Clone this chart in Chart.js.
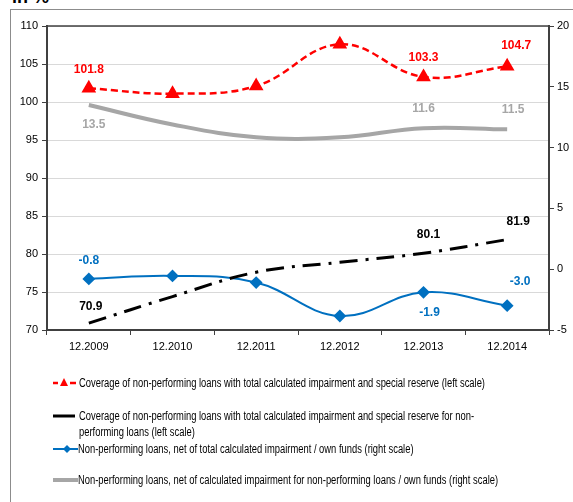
<!DOCTYPE html>
<html>
<head>
<meta charset="utf-8">
<script src="https://cdn.jsdelivr.net/npm/chart.js@4.4.1/dist/chart.umd.min.js"></script>
<style>
  html, body { margin: 0; padding: 0; background: #fff; }
  #wrap { position: relative; width: 573px; height: 502px; overflow: hidden; }
  #frame { position: absolute; left: 10px; top: 9px; width: 600px; height: 600px; border: 1px solid #8c8c8c; box-sizing: border-box; }
  #title { position: absolute; left: 12px; top: -13px; font: bold 18px 'Liberation Sans', Arial, sans-serif; color: #000; }
  #myChart { position: absolute; left: 0; top: 0; }
  .leg { position: absolute; left: 53px; font: 12px 'Liberation Sans', Arial, sans-serif; color: #000; }
  .leg svg { position: absolute; left: 0; }
  .leg span { position: absolute; left: 26px; white-space: nowrap; line-height: 16px; transform-origin: 0 0; }
</style>
</head>
<body>
<div id="wrap">
  <div id="frame"></div>
  <div id="title">in %</div>
  <canvas id="myChart" width="573" height="502"></canvas>

  <div class="leg" style="top:376px">
    <svg width="24" height="14"><line x1="0" y1="7" x2="5" y2="7" stroke="#ff0000" stroke-width="2.5"/><polygon points="11,2 15,10 7,10" fill="#ff0000"/><line x1="17" y1="7" x2="23" y2="7" stroke="#ff0000" stroke-width="2.5"/></svg>
    <span id="leg1" style="top:-1px">Coverage of non-performing loans with total calculated impairment and special reserve (left scale)</span>
  </div>
  <div class="leg" style="top:409px">
    <svg width="24" height="14"><line x1="0" y1="7" x2="22" y2="7" stroke="#000" stroke-width="3"/></svg>
    <span style="top:-1px">Coverage of non-performing loans with total calculated impairment and special reserve for non-<br>performing loans (left scale)</span>
  </div>
  <div class="leg" style="top:442px">
    <svg width="26" height="14"><line x1="0" y1="7" x2="25" y2="7" stroke="#0070c0" stroke-width="2"/><polygon points="14,3 18,7 14,11 10,7" fill="#0070c0"/></svg>
    <span style="top:-1px;left:25px">Non-performing loans, net of total calculated impairment / own funds (right scale)</span>
  </div>
  <div class="leg" style="top:473px">
    <svg width="26" height="14"><line x1="0" y1="7" x2="25" y2="7" stroke="#a6a6a6" stroke-width="4"/></svg>
    <span style="top:-1px;left:25px">Non-performing loans, net of calculated impairment for non-performing loans / own funds (right scale)</span>
  </div>
</div>

<script>
// categories and series values
const periods = ['12.2009', '12.2010', '12.2011', '12.2012', '12.2013', '12.2014'];
const coverageTotal = [101.8, 101.1, 102.1, 107.6, 103.3, 104.7];    // left scale
const coverageNpl = [70.9, 74.4, 77.6, 78.9, 80.1, 81.9];            // left scale
const netTotalOwnFunds = [-0.8, -0.55, -1.1, -3.85, -1.9, -3.0];     // right scale
const netNplOwnFunds = [13.5, 11.9, 10.85, 10.85, 11.6, 11.5];        // right scale

// which points carry a value label, with [dx, dy] offsets from the point
const coverageTotalLabels = { 0: [0, -19], 4: [0, -19], 5: [9, -21] };
const coverageNplLabels = { 0: [2, -16], 4: [5, -19], 5: [11, -18] };
const netTotalLabels = { 0: [0, -18], 4: [6, 20], 5: [13, -24] };
const netNplLabels = { 0: [5, 20], 4: [0, -19], 5: [6, -20] };

const tickFont = { family: "'Liberation Sans', Arial, sans-serif", size: 11 };

// squeeze the legend text to the narrow look of the original
const leg1 = document.getElementById('leg1');
const squeeze = 406 / leg1.getBoundingClientRect().width;
document.querySelectorAll('.leg span').forEach(s => { s.style.transform = 'scaleX(' + squeeze + ')'; });

// draws the value labels next to the points and the plot frame top
const valueLabels = {
    id: 'valueLabels',
    afterDatasetsDraw(chart) {
        const ctx = chart.ctx;
        const area = chart.chartArea;
        ctx.save();
        ctx.strokeStyle = '#404040';
        ctx.lineWidth = 1.5;
        ctx.beginPath();
        ctx.moveTo(area.left, area.top);
        ctx.lineTo(area.right, area.top);
        ctx.stroke();

        ctx.font = "bold 12px 'Liberation Sans', Arial, sans-serif";
        ctx.textAlign = 'center';
        ctx.textBaseline = 'middle';
        chart.data.datasets.forEach((ds, i) => {
            const meta = chart.getDatasetMeta(i);
            Object.keys(ds.labelsAt).forEach(k => {
                const pt = meta.data[k];
                const off = ds.labelsAt[k];
                ctx.fillStyle = ds.labelColor;
                ctx.fillText(ds.data[k].toFixed(1), pt.x + off[0], pt.y + off[1]);
            });
        });
        ctx.restore();
    }
};

const ctx = document.getElementById('myChart').getContext('2d');
const chart = new Chart(ctx, {
    type: 'line',
    data: {
        labels: periods,
        datasets: [
            {
                label: 'Coverage of non-performing loans with total calculated impairment and special reserve (left scale)',
                data: coverageTotal,
                yAxisID: 'y',
                borderColor: '#ff0000',
                backgroundColor: '#ff0000',
                borderWidth: 2.5,
                borderDash: [7, 4],
                tension: 0.4,
                pointStyle: 'triangle',
                pointRadius: 6,
                labelsAt: coverageTotalLabels,
                labelColor: '#ff0000'
            },
            {
                label: 'Coverage of non-performing loans with total calculated impairment and special reserve for non-performing loans (left scale)',
                data: coverageNpl,
                yAxisID: 'y',
                borderColor: '#000000',
                borderWidth: 3,
                borderDash: [18, 8, 3, 8],
                tension: 0.4,
                pointRadius: 0,
                labelsAt: coverageNplLabels,
                labelColor: '#000000'
            },
            {
                label: 'Non-performing loans, net of total calculated impairment / own funds (right scale)',
                data: netTotalOwnFunds,
                yAxisID: 'y1',
                borderColor: '#0070c0',
                backgroundColor: '#0070c0',
                borderWidth: 2,
                tension: 0.4,
                pointStyle: 'rectRot',
                pointRadius: 5,
                labelsAt: netTotalLabels,
                labelColor: '#0070c0'
            },
            {
                label: 'Non-performing loans, net of calculated impairment for non-performing loans / own funds (right scale)',
                data: netNplOwnFunds,
                yAxisID: 'y1',
                borderColor: '#a6a6a6',
                borderWidth: 4,
                tension: 0.4,
                pointRadius: 0,
                labelsAt: netNplLabels,
                labelColor: '#a6a6a6'
            }
        ]
    },
    options: {
        responsive: false,
        animation: false,
        layout: { padding: { top: 26, bottom: 142, left: 0, right: 0 } },
        plugins: {
            legend: { display: false },
            tooltip: { enabled: false }
        },
        scales: {
            x: {
                offset: true,
                afterFit: s => { s.height = 30; },
                border: { color: '#404040', width: 2 },
                grid: { offset: true, drawOnChartArea: false, drawTicks: true, tickLength: 5, color: '#404040' },
                ticks: { font: tickFont, color: '#000', padding: 5, maxRotation: 0 }
            },
            y: {
                position: 'left',
                min: 70,
                max: 110,
                afterFit: s => { s.width = 47; },
                border: { color: '#404040', width: 2 },
                grid: { color: '#d9d9d9', tickColor: '#404040', tickLength: 5 },
                ticks: { stepSize: 5, font: tickFont, color: '#000', padding: 4 }
            },
            y1: {
                position: 'right',
                min: -5,
                max: 20,
                afterFit: s => { s.width = 24; },
                border: { color: '#404040', width: 2 },
                grid: { drawOnChartArea: false, color: '#404040', tickLength: 5 },
                ticks: { stepSize: 5, font: tickFont, color: '#000', padding: 3 }
            }
        }
    },
    plugins: [valueLabels]
});
</script>
</body>
</html>
